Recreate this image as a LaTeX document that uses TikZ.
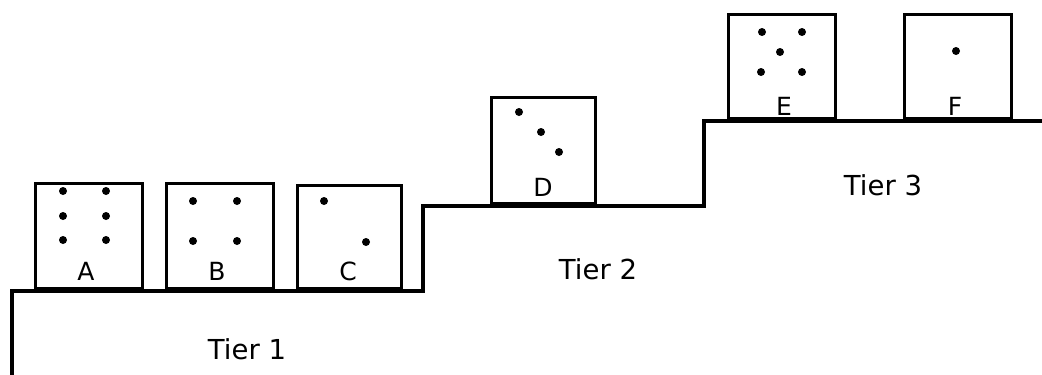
\documentclass[tikz,border=0pt]{standalone}
\usepackage{fontspec}
\setmainfont{DejaVu Sans}
\begin{document}
\begin{tikzpicture}[x=1pt,y=-1pt,
  box/.style={draw=black,line width=3.2pt,rectangle,minimum width=107pt,minimum height=105pt,inner sep=0pt,anchor=south west},
  dot/.style={circle,fill=black,inner sep=0pt,minimum size=8pt},
  boxlbl/.style={font=\fontsize{25}{25}\selectfont,inner sep=0pt},
  tierlbl/.style={font=\fontsize{27.5}{27.5}\selectfont,inner sep=0pt},
  stairline/.style={draw=black,line width=3.6pt,line join=miter}]
\useasboundingbox (0,0) rectangle (1042,375);
% stairs
\coordinate (s0) at (12,376);
\coordinate (s1) at (12,291);
\coordinate (s2) at (423,291);
\coordinate (s3) at (423,206);
\coordinate (s4) at (704,206);
\coordinate (s5) at (704,121);
\coordinate (s6) at (1043,121);
\path[stairline] (s0) -- (s1) -- (s2) -- (s3) -- (s4) -- (s5) -- (s6);
% boxes
\node[box] (A) at (33.5,290) {};
\node[box] (B) at (164.5,290) {};
\node[box,minimum width=104pt,minimum height=103pt] (C) at (295.5,290) {};
\node[box,minimum width=104pt,minimum height=106pt] (D) at (489.5,205) {};
\node[box,minimum height=104pt] (E) at (726.5,120) {};
\node[box,minimum height=104pt] (F) at (902.5,120) {};
% letters
\node[boxlbl] (la) at (86,271) {A};
\node[boxlbl] (lb) at (217,271) {B};
\node[boxlbl] (lc) at (348,271) {C};
\node[boxlbl] (ld) at (543,187) {D};
\node[boxlbl] (le) at (784,106) {E};
\node[boxlbl] (lf) at (955,106) {F};
% tiers
\node[tierlbl] (t1) at (247,349) {Tier 1};
\node[tierlbl] (t2) at (598,269) {Tier 2};
\node[tierlbl] (t3) at (883,185) {Tier 3};
% dots A
\node[dot] (a1) at (63,191) {};
\node[dot] (a2) at (106,191) {};
\node[dot] (a3) at (63,216) {};
\node[dot] (a4) at (106,216) {};
\node[dot] (a5) at (63,240) {};
\node[dot] (a6) at (106,240) {};
% dots B
\node[dot] (b1) at (193,201) {};
\node[dot] (b2) at (237,201) {};
\node[dot] (b3) at (193,241) {};
\node[dot] (b4) at (237,241) {};
% dots C
\node[dot] (c1) at (324,201) {};
\node[dot] (c2) at (366,242) {};
% dots D
\node[dot] (d1) at (519,112) {};
\node[dot] (d2) at (541,132) {};
\node[dot] (d3) at (559,152) {};
% dots E
\node[dot] (e1) at (762,32) {};
\node[dot] (e2) at (802,32) {};
\node[dot] (e3) at (780,52) {};
\node[dot] (e4) at (761,72) {};
\node[dot] (e5) at (802,72) {};
% dot F
\node[dot] (f1) at (956,51) {};
\end{tikzpicture}
\end{document}
